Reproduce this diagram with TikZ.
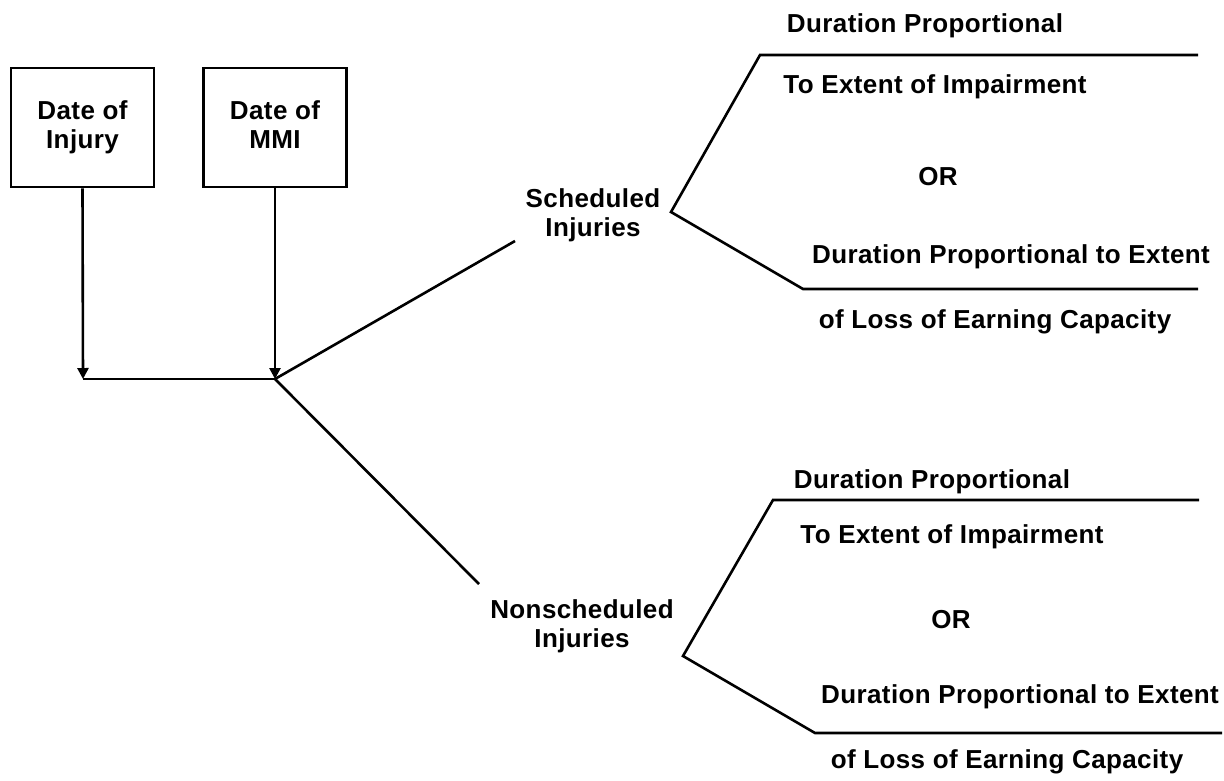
\documentclass[tikz,border=0pt]{standalone}
\usepackage{fontspec}
\setmainfont{Liberation Sans}[LetterSpace=1.5]
\usetikzlibrary{arrows.meta}
\begin{document}
\begin{tikzpicture}[x=1pt,y=-1pt,
  every node/.style={font=\fontsize{26}{29}\selectfont\bfseries, inner sep=0pt},
  datebox/.style={draw, line width=2.7pt, minimum width=143pt, minimum height=119pt, align=center},
  label/.style={anchor=base},
  branch/.style={align=center},
  wire/.style={line width=2.6pt},
  arr/.style={line width=2.6pt, -{Triangle[width=11pt,length=11pt]}}]
\useasboundingbox (0,0) rectangle (1224,780);

% the two date boxes
\node[datebox] (inj) at (82.5,127.5) {Date of\\Injury};
\node[datebox] (mmi) at (275,127.5) {Date of\\MMI\vphantom{j}};

% junction below the boxes
\coordinate (j1) at (83,379);
\coordinate (j2) at (275,379);
\draw[arr] (inj.south) -- (j1);
\draw[arr] (mmi.south) -- (j2);
\draw[wire] (j1) -- (j2);

% the two kinds of injury
\node[branch] (sch) at (593,215) {Scheduled\\Injuries};
\node[branch] (nsch) at (582,626) {Nonscheduled\\Injuries};
\coordinate (schend) at (515,241);
\coordinate (nschend) at (479,584);
\draw[wire] (j2) -- (schend);
\draw[wire] (j2) -- (nschend);

% scheduled injuries: two alternatives
\coordinate (sv) at (671,212);
\draw[wire] (1198,55) coordinate (sa1) -- (760,55) coordinate (sa) -- (sv)
  -- (803,289) coordinate (sb) -- (1198,289) coordinate (sb1);
\node[label] (s1) at (925,32) {Duration Proportional};
\node[label] (s2) at (935,93) {To Extent of Impairment};
\node[label] (sor) at (938,185) {OR};
\node[label] (s3) at (1011,263) {Duration Proportional to Extent};
\node[label] (s4) at (995,328) {of Loss of Earning Capacity};

% nonscheduled injuries: two alternatives
\coordinate (nv) at (683,656);
\draw[wire] (1199,500) coordinate (na1) -- (773,500) coordinate (na) -- (nv)
  -- (815,733) coordinate (nb) -- (1222,733) coordinate (nb1);
\node[label] (n1) at (932,488) {Duration Proportional};
\node[label] (n2) at (952,543) {To Extent of Impairment};
\node[label] (nor) at (951,628) {OR};
\node[label] (n3) at (1020,703) {Duration Proportional to Extent};
\node[label] (n4) at (1007,768) {of Loss of Earning Capacity};
\end{tikzpicture}
\end{document}
